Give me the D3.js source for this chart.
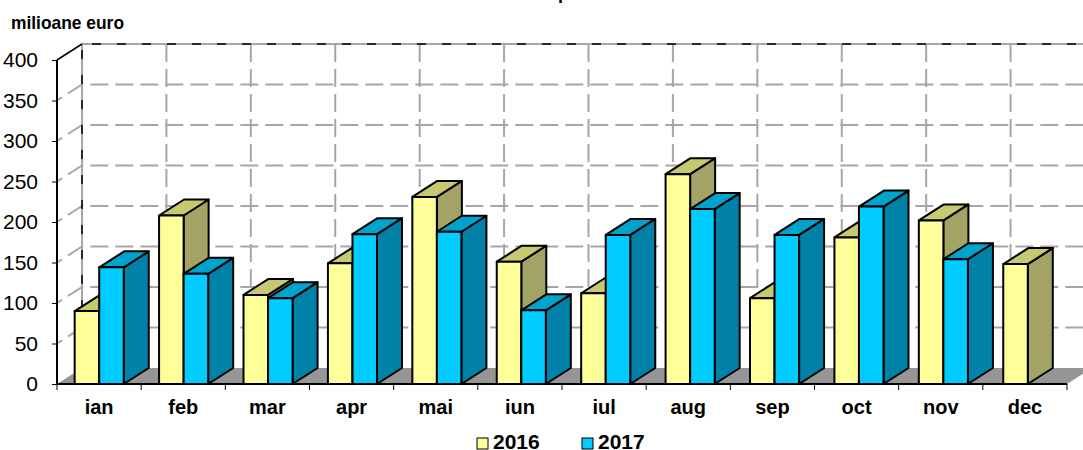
<!DOCTYPE html>
<html>
<head>
<meta charset="utf-8">
<script src="https://cdn.jsdelivr.net/npm/d3@7"></script>
<style>
  html, body { margin: 0; padding: 0; background: #fff; overflow: hidden; }
  text { font-family: "Liberation Sans", Arial, sans-serif; fill: #000; }
</style>
</head>
<body>
<div id="chart-container"></div>
<script>
const months = ["ian", "feb", "mar", "apr", "mai", "iun", "iul", "aug", "sep", "oct", "nov", "dec"];
const years = ["2016", "2017"];
const values2016 = [90, 208, 110, 149, 231, 151, 112, 259, 106, 181, 202, 148];
const values2017 = [144, 136, 106, 185, 188, 91, 184, 216, 184, 219, 154, null];
const yTicks = [0, 50, 100, 150, 200, 250, 300, 350, 400];

const width = 1083, height = 450;
const depthX = 25, depthY = -16;

const svg = d3.select("#chart-container").append("svg")
  .attr("width", width)
  .attr("height", height)
  .style("display", "block");

const y = d3.scaleLinear().domain([0, 400]).range([384, 60]);
// axis ticks and labels run on a slightly shorter step than the bars and the grid
const x = d3.scaleBand().domain(months).range([57, 1067]);
const xGroup = d3.scaleBand().domain(months).range([57, 1070]);
// the two bars of a month sit side by side in the middle of the band
const xBar = d3.scaleBand().domain(years).range([0, xGroup.bandwidth()]).paddingOuter(0.72).paddingInner(0);

const colors = {
  "2016": { front: "#ffff99", top: "#c8c870", side: "#a3a366" },
  "2017": { front: "#00ccff", top: "#00a3cc", side: "#0082a8" }
};

const grid = svg.append("g");

// floor
grid.append("path")
  .attr("d", d3.line()([[57, y(0)], [57 + depthX, y(0) + depthY], [1067 + depthX, y(0) + depthY], [1067, y(0)]]) + "Z")
  .attr("fill", "#969696")
  .attr("stroke", "none");

// horizontal lines on the back wall and on the side wall
grid.selectAll(".h-grid")
  .data(yTicks.slice(1, -1))
  .join("path")
    .attr("class", "h-grid")
    .attr("d", d => d3.line()([[57, y(d)], [57 + depthX, y(d) + depthY], [1083, y(d) + depthY]]))
    .attr("fill", "none")
    .attr("stroke", "#a6a6a6")
    .attr("stroke-width", 2)
    .attr("stroke-dasharray", "18 7")
    .attr("stroke-dashoffset", 12);

// vertical lines on the back wall
grid.selectAll(".v-grid")
  .data(months.slice(1))
  .join("line")
    .attr("class", "v-grid")
    .attr("x1", d => xGroup(d) + depthX)
    .attr("x2", d => xGroup(d) + depthX)
    .attr("y1", y(400) + depthY)
    .attr("y2", y(0) + depthY)
    .attr("stroke", "#a6a6a6")
    .attr("stroke-width", 2)
    .attr("stroke-dasharray", "18 7");

// back wall edges, grey with black dashes on top
grid.append("path")
  .attr("d", d3.line()([[57 + depthX, y(0) + depthY], [57 + depthX, y(400) + depthY], [1083, y(400) + depthY]]))
  .attr("fill", "none")
  .attr("stroke", "#a6a6a6")
  .attr("stroke-width", 2);
grid.append("path")
  .attr("d", d3.line()([[57 + depthX, y(0) + depthY], [57 + depthX, y(400) + depthY], [1083, y(400) + depthY]]))
  .attr("fill", "none")
  .attr("stroke", "#000")
  .attr("stroke-width", 1.5)
  .attr("stroke-dasharray", "9 16")
  .attr("stroke-dashoffset", 16);

// top edge of the side wall
grid.append("line")
  .attr("x1", 57).attr("y1", y(400))
  .attr("x2", 57 + depthX).attr("y2", y(400) + depthY)
  .attr("stroke", "#000")
  .attr("stroke-width", 1.5);

// bars
const barData = [];
months.forEach((m, i) => {
  barData.push({ month: m, year: "2016", value: values2016[i] });
  if (values2017[i] !== null) barData.push({ month: m, year: "2017", value: values2017[i] });
});

const bar = svg.append("g").selectAll("g")
  .data(barData)
  .join("g")
    .attr("stroke", "#000")
    .attr("stroke-width", 2)
    .attr("stroke-linejoin", "round");

const x0 = d => xGroup(d.month) + xBar(d.year);
const x1 = d => x0(d) + xBar.bandwidth();

bar.append("path") // side
  .attr("d", d => d3.line()([[x1(d), y(0)], [x1(d) + depthX, y(0) + depthY], [x1(d) + depthX, y(d.value) + depthY], [x1(d), y(d.value)]]) + "Z")
  .attr("fill", d => colors[d.year].side);
bar.append("path") // top
  .attr("d", d => d3.line()([[x0(d), y(d.value)], [x0(d) + depthX, y(d.value) + depthY], [x1(d) + depthX, y(d.value) + depthY], [x1(d), y(d.value)]]) + "Z")
  .attr("fill", d => colors[d.year].top);
bar.append("rect") // front
  .attr("x", x0)
  .attr("y", d => y(d.value))
  .attr("width", xBar.bandwidth())
  .attr("height", d => y(0) - y(d.value))
  .attr("fill", d => colors[d.year].front);

// axes
const yAxis = svg.append("g")
  .attr("transform", "translate(57,0)")
  .call(d3.axisLeft(y).tickValues(yTicks).tickSize(5).tickPadding(14));
yAxis.select(".domain").attr("stroke-width", 2).attr("d", `M0,${y(400)}V${y(0)}`);
yAxis.selectAll("line").attr("stroke", "#000").attr("stroke-width", 1);
yAxis.selectAll("text").attr("font-size", 21).attr("font-family", '"Liberation Sans"').attr("fill", "#000");

const xAxis = svg.append("g")
  .attr("transform", `translate(0,${y(0)})`)
  .call(d3.axisBottom(x).tickSize(0).tickPadding(16));
xAxis.select(".domain").attr("stroke-width", 2).attr("d", "M57,0H1067");
xAxis.selectAll("text").attr("font-size", 20).attr("font-weight", "bold").attr("font-family", '"Liberation Sans"').attr("fill", "#000");

// tick marks between the months
svg.append("g").selectAll("line")
  .data(months.concat("end"))
  .join("line")
    .attr("x1", d => d === "end" ? 1067 : x(d))
    .attr("x2", d => d === "end" ? 1067 : x(d))
    .attr("y1", y(0))
    .attr("y2", y(0) + 6)
    .attr("stroke", "#000")
    .attr("stroke-width", 1);

// unit label and the bit of title that shows at the top edge
svg.append("text")
  .attr("x", 11).attr("y", 29)
  .attr("font-size", 18.5)
  .attr("font-weight", "bold")
  .attr("textLength", 113)
  .attr("lengthAdjust", "spacingAndGlyphs")
  .text("milioane euro");

svg.append("text")
  .attr("x", 558).attr("y", -1)
  .attr("font-size", 18)
  .attr("font-weight", "bold")
  .text("p");

// legend
const legend = svg.append("g").selectAll("g")
  .data(years)
  .join("g")
    .attr("transform", (d, i) => `translate(${477 + i * 105},0)`);
legend.append("rect")
  .attr("y", 438).attr("width", 11).attr("height", 11)
  .attr("fill", d => colors[d].front)
  .attr("stroke", "#000")
  .attr("stroke-width", 1);
legend.append("text")
  .attr("x", 16).attr("y", 449)
  .attr("font-size", 21)
  .attr("font-weight", "bold")
  .text(d => d);
</script>
</body>
</html>
